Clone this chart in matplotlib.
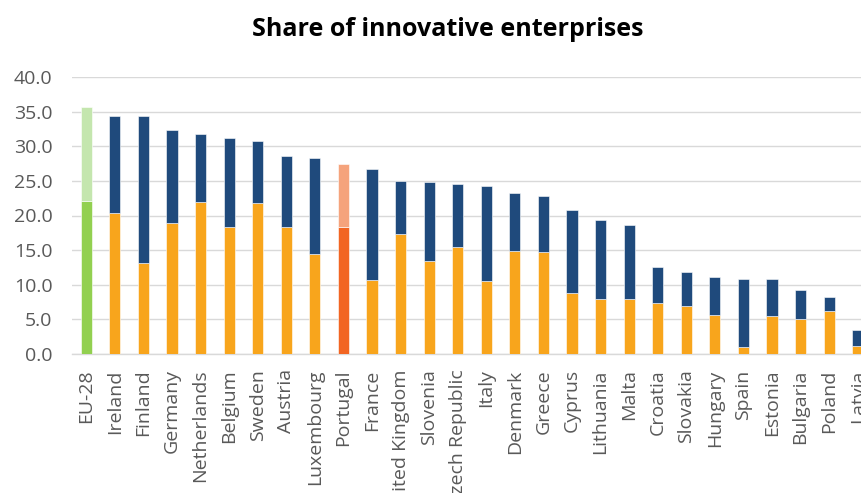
import matplotlib
matplotlib.use("Agg")
import matplotlib.pyplot as plt
import numpy as np

plt.rcParams['font.family'] = ['Open Sans', 'DejaVu Sans']

countries = ["EU-28", "Ireland", "Finland", "Germany", "Netherlands", "Belgium", "Sweden",
             "Austria", "Luxembourg", "Portugal", "France", "United Kingdom", "Slovenia",
             "Czech Republic", "Italy", "Denmark", "Greece", "Cyprus", "Lithuania", "Malta",
             "Croatia", "Slovakia", "Hungary", "Spain", "Estonia", "Bulgaria", "Poland", "Latvia"]
bottom_vals = [22.1, 20.3, 13.1, 18.9, 21.9, 18.4, 21.8, 18.4, 14.4, 18.4, 10.7, 17.4, 13.4,
               15.4, 10.6, 14.9, 14.8, 8.8, 7.9, 8.0, 7.4, 6.9, 5.6, 1.0, 5.5, 5.1, 6.2, 1.2]
total_vals = [35.6, 34.4, 34.3, 32.4, 31.8, 31.2, 30.7, 28.6, 28.3, 27.5, 26.7, 25.0, 24.9,
              24.5, 24.3, 23.2, 22.8, 20.8, 19.4, 18.6, 12.5, 11.8, 11.1, 10.9, 10.8, 9.3, 8.3, 3.5]
top_vals = [round(t - b, 1) for t, b in zip(total_vals, bottom_vals)]
y_ticks = [0, 5, 10, 15, 20, 25, 30, 35, 40]

c_bottom, c_top = "#F8A51C", "#1F4A7C"
special = {"EU-28": ("#92D050", "#C4E6AE"), "Portugal": ("#F26522", "#F5A37C")}

bot_colors = [special.get(c, (c_bottom, c_top))[0] for c in countries]
top_colors = [special.get(c, (c_bottom, c_top))[1] for c in countries]

fig = plt.figure(figsize=(8.62, 4.93), dpi=100)
ax = fig.add_axes([72/862, 139/493, 800/862, 277/493])

x = np.arange(len(countries))
w = 0.39
ax.bar(x, bottom_vals, w, color=bot_colors, edgecolor="#FFFFFF", linewidth=0.4, zorder=3)
ax.bar(x, top_vals, w, bottom=bottom_vals, color=top_colors, edgecolor="#FFFFFF", linewidth=0.4, zorder=3)

ax.set_xlim(-0.5, len(countries) - 0.5)
ax.set_ylim(0, 40)
ax.set_yticks(y_ticks)
ax.set_yticklabels([f"{v:.1f}" for v in y_ticks])
ax.yaxis.grid(True, color="#D9D9D9", linewidth=1.0, zorder=0)
ax.set_axisbelow(True)
for s in ["top", "right", "left"]:
    ax.spines[s].set_visible(False)
ax.spines["bottom"].set_color("#D9D9D9")
ax.spines["bottom"].set_linewidth(1.0)

ax.set_xticks(x)
ax.set_xticklabels(countries, rotation=90)
ax.tick_params(axis="x", length=0, pad=11, labelsize=14, labelcolor="#595959")
ax.tick_params(axis="y", length=0, pad=14, labelsize=14, labelcolor="#595959")

fig.text(448/862, 1 - 30/493, "Share of innovative enterprises", ha="center", va="center",
         fontsize=18, fontweight="bold", color="#000000")

fig.savefig("out.png", dpi=100)
